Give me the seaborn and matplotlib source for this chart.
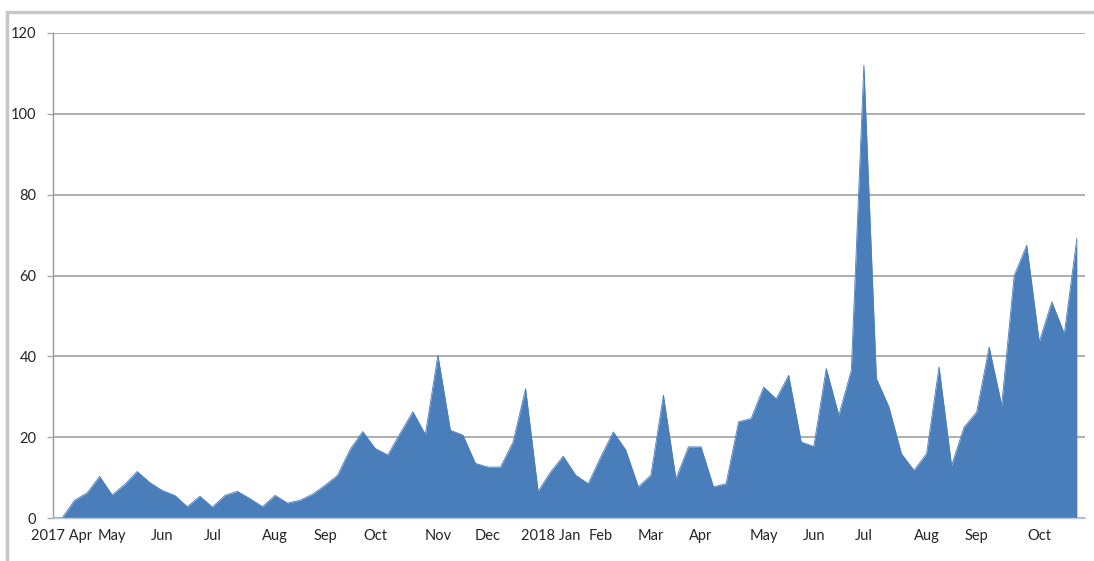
"""
Weekly counts, Apr 2017 - Oct 2018, Excel-style area chart
"""
import numpy as np
import pandas as pd
import matplotlib
matplotlib.use("Agg")
import matplotlib.pyplot as plt
from matplotlib.patches import Rectangle
import seaborn as sns

# weekly values
weekly_counts = [
    0, 4.4, 6.2, 10.3, 5.7, 8.3, 11.5, 8.8, 6.8, 5.6,
    2.8, 5.4, 2.7, 5.6, 6.6, 4.8, 2.8, 5.6, 3.7, 4.4,
    5.9, 8.1, 10.6, 17.0, 21.4, 17.2, 15.6, 21.0, 26.3, 20.7,
    40.3, 21.7, 20.5, 13.5, 12.6, 12.6, 18.8, 32.0, 6.6, 11.4,
    15.3, 10.6, 8.5, 15.1, 21.3, 16.8, 7.7, 10.6, 30.4, 9.7,
    17.6, 17.6, 7.7, 8.5, 23.8, 24.6, 32.4, 29.5, 35.3, 18.8,
    17.7, 37.0, 25.4, 36.6, 112.0, 34.5, 27.5, 15.9, 11.8, 15.9,
    37.4, 13.0, 22.5, 26.2, 42.3, 27.9, 60.0, 67.5, 43.6, 53.5,
    45.6, 69.2,
]

# first week of each month on the category axis
month_labels = ["2017 Apr", "May", "Jun", "Jul", "Aug", "Sep", "Oct", "Nov", "Dec",
                "2018 Jan", "Feb", "Mar", "Apr", "May", "Jun", "Jul", "Aug", "Sep", "Oct"]
month_start_week = [0, 4, 8, 12, 17, 21, 25, 30, 34, 39, 43, 47, 51, 56, 60, 64, 69, 73, 78]

y_ticks = [0, 20, 40, 60, 80, 100, 120]

df = pd.DataFrame({"week": np.arange(len(weekly_counts)), "count": weekly_counts})

sns.set_theme(style="white")
plt.rcParams["font.family"] = ["Lato", "DejaVu Sans"]

W, H = 1094, 561
fig = plt.figure(figsize=(W / 100, H / 100), dpi=100)
fig.patch.set_facecolor("white")

# outer chart frame (only top/left edges fall inside the picture)
fig.patches.append(Rectangle((7 / W, -0.2), 1.2, 1.2 - 12 / H,
                             transform=fig.transFigure, fill=False,
                             edgecolor="#c8c8c8", linewidth=2.5))

ax = fig.add_axes([53 / W, 1 - 518 / H, (1085 - 53) / W, (518 - 33) / H])

blue = "#4A7EBB"
ax.fill_between(df["week"], df["count"], color=blue, linewidth=0, zorder=2)
sns.lineplot(data=df, x="week", y="count", color=blue, linewidth=0.6, ax=ax, zorder=2)

ax.set_xlim(-0.72, 81.65)
ax.set_ylim(0, 120)
ax.set_yticks(y_ticks)
ax.set_yticklabels([str(v) for v in y_ticks])
ax.set_xticks(month_start_week)
ax.set_xticklabels(month_labels)
ax.set_xlabel("")
ax.set_ylabel("")

ax.yaxis.grid(True, color="#a8a8a8", linewidth=1.3)
ax.xaxis.grid(False)
ax.set_axisbelow(True)

for side in ["top", "right"]:
    ax.spines[side].set_visible(False)
ax.spines["left"].set_color("#9a9a9a")
ax.spines["left"].set_linewidth(1.0)
ax.spines["bottom"].set_color("#b8c8dc")
ax.spines["bottom"].set_linewidth(1.0)

ax.tick_params(axis="y", length=4, width=1, color="#a8a8a8", pad=8,
               labelsize=10.5, labelcolor="#262626", direction="out", left=True)
ax.tick_params(axis="x", length=0, pad=8, labelsize=10.5, labelcolor="#262626")

fig.savefig("out.png", dpi=100, facecolor="white")
